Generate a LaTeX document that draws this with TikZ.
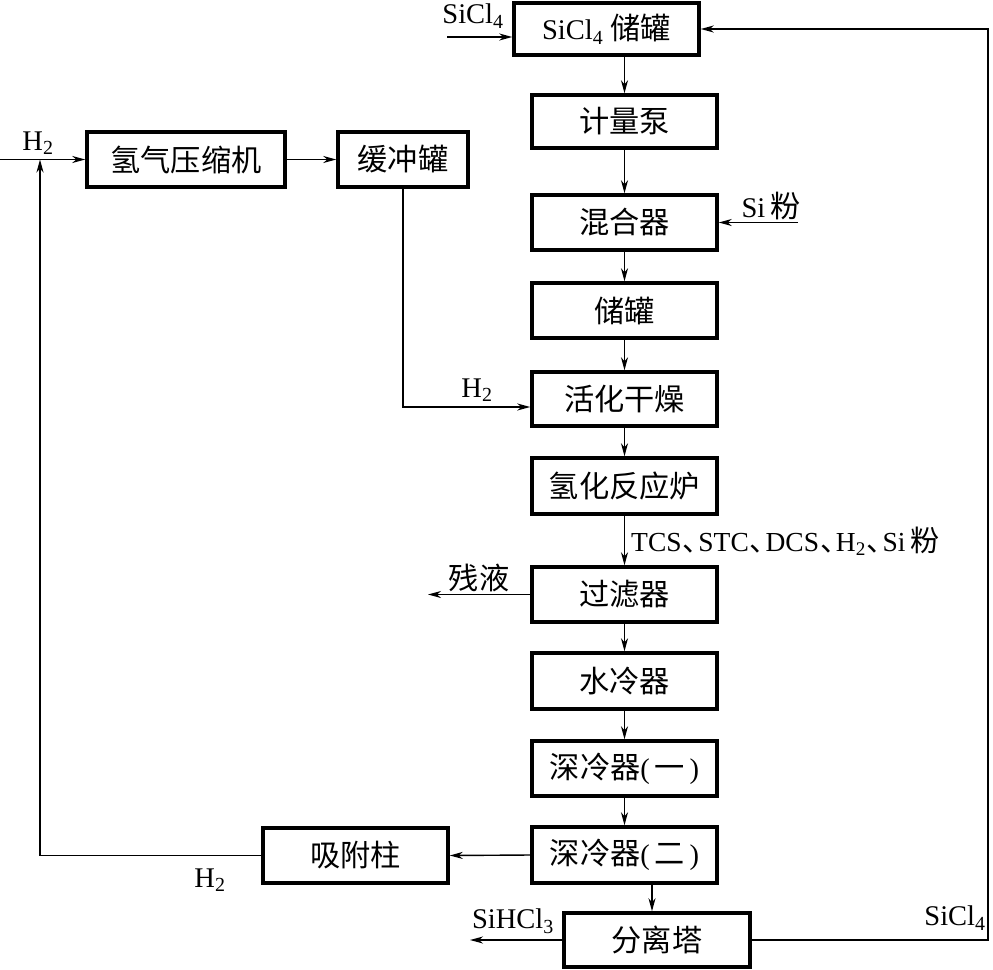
\documentclass[tikz,border=0pt]{standalone}
\usepackage{fontspec}
\setmainfont{Liberation Serif}
\newfontfamily\cjk[Scale=1.06]{Noto Sans CJK SC}
\newfontfamily\cjkhalf[Scale=1.06,RawFeature=+halt]{Noto Sans CJK SC}
\usetikzlibrary{arrows.meta}
\newcommand{\dun}{\hspace{0.04em}{\cjkhalf 、}\hspace{0.04em}}
\begin{document}
\begin{tikzpicture}[x=1pt,y=-1pt,
  box/.style={draw, line width=3.5pt, minimum width=185pt, minimum height=55pt, inner sep=0pt, font=\fontsize{28.5}{32}\selectfont},
  flow/.style={line width=1.4pt, -{Stealth[length=13pt,width=7pt,inset=4pt]}},
  lbl/.style={font=\fontsize{28.5}{32}\selectfont, inner sep=0pt}]
\useasboundingbox (0,0) rectangle (993,969);
% main column
\node[box, minimum height=52pt] (s1) at (606.5,29) {SiCl\textsubscript{4} {\cjk 储罐}};
\node[box, minimum height=53pt] (jlb) at (624.5,121.5) {\cjk 计量泵};
\node[box] (hhq) at (624.5,222.5) {\cjk 混合器};
\node[box] (cg) at (624.5,310.5) {\cjk 储罐};
\node[box, minimum height=54pt] (hhgz) at (624.5,399) {\cjk 活化干燥};
\node[box, minimum height=56pt] (fyl) at (624.5,486) {\cjk 氢化反应炉};
\node[box] (glq) at (624.5,594.5) {\cjk 过滤器};
\node[box, minimum height=56pt] (slq) at (624.5,681) {\cjk 水冷器};
\node[box] (sl1) at (624.5,768.5) {{\cjk 深冷器}(\,{\cjk 一}\,)};
\node[box, minimum height=56pt] (sl2) at (624.5,855) {{\cjk 深冷器}(\,{\cjk 二}\,)};
\node[box, minimum width=186pt, minimum height=54pt] (flt) at (657,940) {\cjk 分离塔};
% left boxes
\node[box, minimum width=198pt] (ysj) at (186,159.5) {\cjk 氢气压缩机};
\node[box, minimum width=130pt] (hcg) at (403,159.5) {\cjk 缓冲罐};
\node[box] (xfz) at (355.5,855.5) {\cjk 吸附柱};
% coordinates
\coordinate (sin) at (447,37);
\coordinate (h2in) at (0,159.5);
\coordinate (j1) at (403,407);
\coordinate (si) at (798,222.5);
\coordinate (cy) at (428,596);
\coordinate (r1) at (40,855.5);
\coordinate (sh) at (470,940);
\coordinate (r2) at (988,940);
\coordinate (a) at (652,0);
% main flow arrows
\draw[flow] (s1.south -| jlb.north) -- (jlb.north);
\draw[flow] (jlb.south) -- (hhq.north);
\draw[flow] (hhq.south) -- (cg.north);
\draw[flow] (cg.south) -- (hhgz.north);
\draw[flow] (hhgz.south) -- (fyl.north);
\draw[flow] (fyl.south) -- (glq.north);
\draw[flow] (glq.south) -- (slq.north);
\draw[flow] (slq.south) -- (sl1.north);
\draw[flow] (sl1.south) -- (sl2.north);
\draw[flow] (sl2.south -| a) -- (flt.north -| a);
% side flows
\draw[flow] (sin) -- (s1.west |- sin);
\draw[flow] (h2in) -- (ysj.west);
\draw[flow] (ysj.east) -- (hcg.west);
\draw[flow] (hcg.south) -- (j1) -- (hhgz.west |- j1);
\draw[flow] (si) -- (hhq.east);
\draw[flow] (glq.west) -- (cy |- glq.west);
\draw[flow] (sl2.west) -- (xfz.east);
\draw[flow] (xfz.west) -- (r1) -- (r1 |- ysj.west);
\draw[flow] (flt.west) -- (sh);
\draw[flow] (flt.east) -- (r2) -- (r2 |- s1.east) -- (s1.east);
% labels
\node[lbl] (l1) at (473,16) {SiCl\textsubscript{4}};
\node[lbl] (l2) at (38,143) {H\textsubscript{2}};
\node[lbl] (l3) at (477,390) {H\textsubscript{2}};
\node[lbl] (l4) at (771,206) {Si\,{\cjk 粉}};
\node[lbl, anchor=west, font=\fontsize{27.5}{32}\selectfont] (l5) at (631,541) {TCS\dun STC\dun DCS\dun H\textsubscript{2}\dun Si\,{\cjk 粉}};
\node[lbl] (l6) at (479,578) {\cjk 残液};
\node[lbl] (l7) at (210,880) {H\textsubscript{2}};
\node[lbl] (l8) at (513,921) {SiHCl\textsubscript{3}};
\node[lbl] (l9) at (955,918) {SiCl\textsubscript{4}};
\end{tikzpicture}
\end{document}
